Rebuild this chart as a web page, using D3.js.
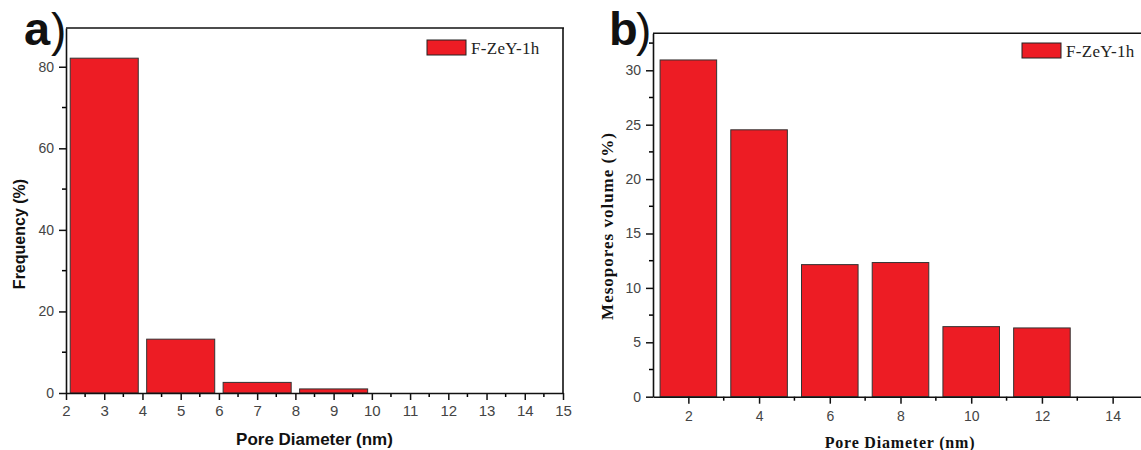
<!DOCTYPE html>
<html>
<head>
<meta charset="utf-8">
<script src="https://cdn.jsdelivr.net/npm/d3@7"></script>
<style>
  html, body { margin: 0; padding: 0; background: #fff; }
  svg { display: block; }
</style>
</head>
<body>
<svg id="chart" width="1141" height="450"></svg>
<script>
// ---- Data ----
const seriesName = "F-ZeY-1h";
// Panel a: frequency histogram
const freqCenters = [3, 5, 7, 9];
const freqValues = [82.1, 13.2, 2.6, 1.0];
const freqXTicks = [2, 3, 4, 5, 6, 7, 8, 9, 10, 11, 12, 13, 14, 15];
const freqYTicks = [0, 20, 40, 60, 80];
// Panel b: mesopore volume
const volCenters = [2, 4, 6, 8, 10, 12];
const volValues = [30.95, 24.53, 12.14, 12.33, 6.44, 6.32];
const volXTicks = [2, 4, 6, 8, 10, 12, 14];
const volYTicks = [0, 5, 10, 15, 20, 25, 30];

const svg = d3.select("#chart");
const RED = "#ED1C24";
const sans = "'Liberation Sans', Arial, sans-serif";
const serif = "'Liberation Serif', 'Times New Roman', serif";

function panel(opt) {
  const g = svg.append("g");
  const x = d3.scaleLinear().domain(opt.xDomain).range(opt.xRange);
  const y = d3.scaleLinear().domain(opt.yDomain).range(opt.yRange);
  const [x0, x1] = opt.xRange;
  const [yb, yt] = opt.yRange;

  // minor ticks
  g.append("g").selectAll("line").data(opt.xMinor).join("line")
    .attr("x1", d => x(d)).attr("x2", d => x(d))
    .attr("y1", yb).attr("y2", yb + 4)
    .attr("stroke", "#000").attr("stroke-width", 1.5);
  g.append("g").selectAll("line").data(opt.yMinor).join("line")
    .attr("y1", d => y(d)).attr("y2", d => y(d))
    .attr("x1", x0).attr("x2", x0 - 4)
    .attr("stroke", "#000").attr("stroke-width", 1.5);

  // bars
  g.append("g").selectAll("rect").data(opt.centers.map((c, i) => ({c, v: opt.values[i]}))).join("rect")
    .attr("x", d => x(d.c - opt.barW / 2))
    .attr("width", d => x(d.c + opt.barW / 2) - x(d.c - opt.barW / 2))
    .attr("y", d => y(d.v))
    .attr("height", d => y(0) - y(d.v))
    .attr("fill", RED).attr("stroke", "#333").attr("stroke-width", 1);

  // frame
  g.append("line").attr("x1", x0).attr("x2", x1 + 1).attr("y1", yt).attr("y2", yt)
    .attr("stroke", "#111").attr("stroke-width", 1.6);
  g.append("line").attr("x1", x1).attr("x2", x1).attr("y1", yt).attr("y2", yb)
    .attr("stroke", "#111").attr("stroke-width", 1.6);

  // axes
  const xa = g.append("g").attr("transform", `translate(0,${yb})`)
    .call(d3.axisBottom(x).tickValues(opt.xTicks).tickSize(7).tickPadding(opt.xPad).tickSizeOuter(0));
  const ya = g.append("g").attr("transform", `translate(${x0},0)`)
    .call(d3.axisLeft(y).tickValues(opt.yTicks).tickSize(7).tickPadding(5).tickSizeOuter(0));
  [xa, ya].forEach(a => {
    a.select(".domain").attr("stroke", "#111").attr("stroke-width", 1.6);
    a.selectAll(".tick line").attr("stroke", "#111").attr("stroke-width", 1.5);
    a.selectAll(".tick text").attr("fill", "#444").attr("font-family", sans);
  });
  xa.selectAll(".tick text").attr("font-size", opt.xFont);
  ya.selectAll(".tick text").attr("font-size", 14);

  // legend
  g.append("rect").attr("x", opt.legX).attr("y", opt.legY).attr("width", 39).attr("height", 15)
    .attr("fill", RED).attr("stroke", "#222").attr("stroke-width", 1);
  g.append("text").attr("x", opt.legX + 44).attr("y", opt.legY + 14)
    .attr("font-family", serif).attr("font-size", 17).attr("fill", "#222")
    .attr("letter-spacing", 0.3).text(seriesName);

  // panel letter
  g.append("text").attr("x", opt.letterX).attr("y", 45)
    .attr("font-family", sans).attr("font-weight", "bold").attr("font-size", 47)
    .attr("fill", "#111").text(opt.letter);
  g.append("text").attr("x", opt.parenX).attr("y", 46)
    .attr("font-family", sans).attr("font-size", 46).attr("fill", "#111").text(")");

  // axis titles
  g.append("text").attr("x", opt.xTitleX).attr("y", opt.xTitleY).attr("text-anchor", "middle")
    .attr("font-family", opt.titleFont).attr("font-weight", "bold").attr("font-size", opt.xTitleSize)
    .attr("letter-spacing", opt.xTitleSpacing).attr("fill", "#111").text("Pore Diameter (nm)");
  g.append("text").attr("transform", `translate(${opt.yTitleX},${opt.yTitleY}) rotate(-90)`)
    .attr("text-anchor", "middle")
    .attr("font-family", opt.titleFont).attr("font-weight", "bold").attr("font-size", opt.yTitleSize)
    .attr("letter-spacing", opt.yTitleSpacing).attr("fill", "#111").text(opt.yTitle);
}

panel({
  xDomain: [2, 15], xRange: [66, 563],
  yDomain: [0, 89.5], yRange: [393, 28],
  centers: freqCenters, values: freqValues, barW: 1.78,
  xTicks: freqXTicks, yTicks: freqYTicks,
  xMinor: d3.range(2.5, 15, 1), yMinor: [10, 30, 50, 70],
  xPad: 5, xFont: 15,
  legX: 427, legY: 40,
  letter: "a", letterX: 24, parenX: 51,
  titleFont: sans, xTitleSize: 17, xTitleSpacing: 0, yTitleSize: 16, yTitleSpacing: 0,
  xTitleX: 314.5, xTitleY: 445, yTitleX: 25, yTitleY: 234,
  yTitle: "Frequency (%)"
});

panel({
  xDomain: [1, 15], xRange: [653, 1148],
  yDomain: [0, 33.4], yRange: [396.7, 33.3],
  centers: volCenters, values: volValues, barW: 1.6,
  xTicks: volXTicks, yTicks: volYTicks,
  xMinor: [3, 5, 7, 9, 11, 13], yMinor: d3.range(2.5, 33, 5),
  xPad: 7, xFont: 14,
  legX: 1022, legY: 43,
  letter: "b", letterX: 609, parenX: 636,
  titleFont: serif, xTitleSize: 16, xTitleSpacing: 0.8, yTitleSize: 17, yTitleSpacing: 1,
  xTitleX: 900, xTitleY: 448, yTitleX: 613, yTitleY: 226,
  yTitle: "Mesopores volume (%)"
});
</script>
</body>
</html>
